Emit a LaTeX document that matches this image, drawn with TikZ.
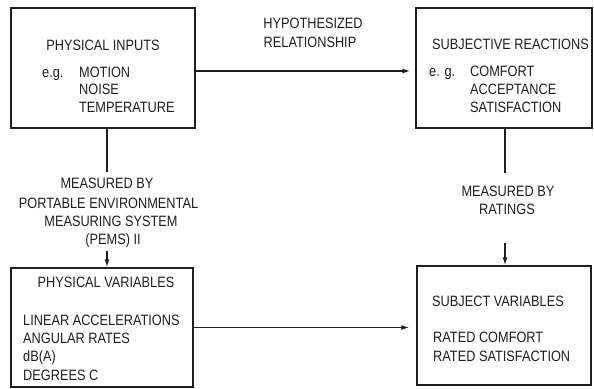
\documentclass[tikz,border=0pt]{standalone}
\usepackage{fontspec}
\setmainfont{Liberation Sans}[FakeStretch=0.85]
\usetikzlibrary{arrows.meta}
\definecolor{ink}{RGB}{30,30,30}
\tikzset{
  box/.style={draw=ink, line width=1.4pt, rectangle, inner sep=0pt},
  lbl/.style={inner sep=0pt, text=ink, font=\fontsize{15}{18}\selectfont},
  lw/.style={lbl, anchor=base west},
  lc/.style={lbl, anchor=base},
  conn/.style={draw=ink, line width=1.3pt},
  arr/.style={conn, -{Latex[length=8pt,width=5pt]}}
}
\begin{document}
\begin{tikzpicture}[x=1pt,y=-1pt]
\useasboundingbox (0,0) rectangle (594,388);
% boxes
\node[box, minimum width=184pt, minimum height=120pt] (pin) at (103,68) {};
\node[box, minimum width=176pt, minimum height=120pt] (sr) at (504,68) {};
\node[box, minimum width=182pt, minimum height=119pt] (pv) at (102,327.5) {};
\node[box, minimum width=174pt, minimum height=119pt] (sv) at (504,325.5) {};
% box 1 text
\node[lc] (t1) at (103,50) {PHYSICAL INPUTS};
\node[lw] (t1eg) at (42,77) {e.g.};
\node[lw] (t1a) at (79,77) {MOTION};
\node[lw] (t1b) at (79,94.5) {NOISE};
\node[lw] (t1c) at (79,112.5) {TEMPERATURE};
% box 2 text
\node[lw] (t2) at (432,49) {SUBJECTIVE REACTIONS};
\node[lw] (t2eg) at (429,76) {e. g.};
\node[lw] (t2a) at (470,76) {COMFORT};
\node[lw] (t2b) at (470,94) {ACCEPTANCE};
\node[lw] (t2c) at (470,112) {SATISFACTION};
% box 3 text
\node[lc] (t3) at (106,287) {PHYSICAL VARIABLES};
\node[lw] (t3a) at (23,325) {LINEAR ACCELERATIONS};
\node[lw] (t3b) at (23,343.5) {ANGULAR RATES};
\node[lw] (t3c) at (23,361) {dB(A)};
\node[lw] (t3d) at (23,380) {DEGREES C};
% box 4 text
\node[lw] (t4) at (432,306) {SUBJECT VARIABLES};
\node[lw] (t4a) at (433,342) {RATED COMFORT};
\node[lw] (t4b) at (433,361) {RATED SATISFACTION};
% hypothesized
\node[lc] (h1) at (313,28) {HYPOTHESIZED};
\node[lc] (h2) at (310,47.5) {RELATIONSHIP};
\draw[arr, shorten >=5pt] ([yshift=-3pt]pin.east) -- ([yshift=-3pt]sr.west);
% left measured by
\coordinate (m1a) at (107,172);
\coordinate (m1b) at (107,251);
\node[lc] (l1) at (107,188) {MEASURED BY};
\node[lc] (l2) at (108.5,208) {PORTABLE ENVIRONMENTAL};
\node[lc] (l3) at (111,226) {MEASURING SYSTEM};
\node[lc] (l4) at (113,244) {(PEMS) II};
\draw[conn] (pin.south -| m1a) -- (m1a);
\draw[arr] (m1b) -- (pv.north -| m1b);
% right measured by
\coordinate (m2a) at (505,173);
\coordinate (m2b) at (505,243);
\node[lc] (r1) at (508,196.5) {MEASURED BY};
\node[lc] (r2) at (507,214) {RATINGS};
\draw[conn] (sr.south -| m2a) -- (m2a);
\draw[arr] (m2b) -- (sv.north -| m2b);
% bottom arrow
\draw[arr, shorten >=7pt] (pv.east) -- (sv.west |- pv.east);
\end{tikzpicture}
\end{document}
